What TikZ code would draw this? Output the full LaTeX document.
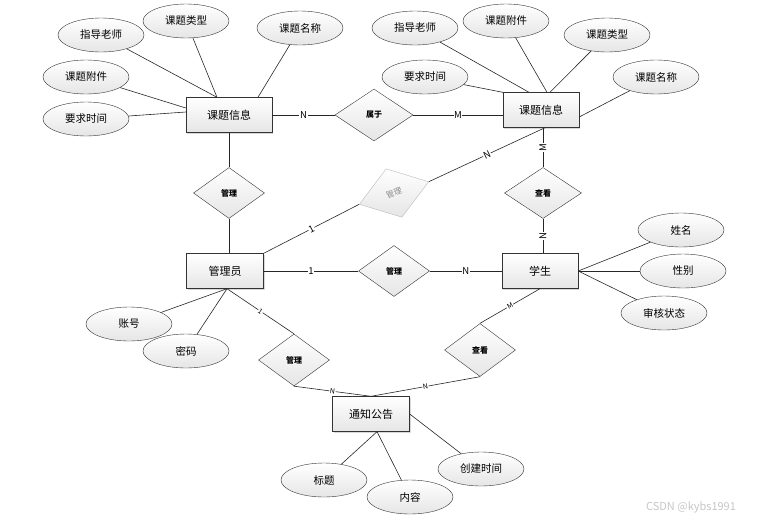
\documentclass[tikz,border=0pt]{standalone}
\usepackage{fontspec}
\setmainfont{Noto Sans CJK SC}
\usetikzlibrary{shapes.geometric, positioning, shadows}
\tikzset{
entity/.style={rectangle, draw=gray!40!black, top color=white, bottom color=gray!20, minimum width=76pt, minimum height=35pt, font=\fontsize{11}{12}\selectfont, drop shadow={shadow xshift=1pt, shadow yshift=-1pt, fill=gray!60}}, % the boxes
attr/.style={ellipse, draw=gray!40!black, top color=white, bottom color=gray!20, minimum width=86pt, minimum height=34pt, inner sep=0pt, font=\fontsize{10.5}{12}\selectfont}, % the ovals
rel/.style={diamond, draw=gray!40!black, top color=white, bottom color=gray!20, minimum width=71pt, minimum height=51pt, inner sep=0pt, font=\fontsize{8}{9}\selectfont\bfseries}, % the diamonds
lab/.style={fill=white, inner sep=0.6pt, font=\fontsize{9.5}{10}\selectfont}, % labels on the lines
small lab/.style={lab, font=\fontsize{7}{8}\selectfont},
every edge/.style={draw=gray!30!black, line width=0.6pt},
}

\begin{document}
\begin{tikzpicture}[x=1pt, y=-1pt, on grid]
    \useasboundingbox (0,0) rectangle (761,520);

    \node[entity, minimum width=86pt] (info1) at (229,115) {课题信息};
    \node[rel, minimum width=78pt, minimum height=52pt, right=145pt of info1] (belong) {属于};
    \node[entity, above right=5pt and 167pt of belong] (info2) {课题信息};
    \node[rel, below=78pt of info1] (manage1) {管理};
    \node[entity, minimum width=77pt, below left=78pt and 4pt of manage1] (admin) {管理员};
    \node[rel, right=169pt of admin] (manage2) {管理};
    \node[entity, right=146pt of manage2] (stu) {学生};
    \node[rel, minimum width=77pt, above right=78pt and 3pt of stu] (view1) {查看};
    \node[rel, rotate=18, minimum width=73pt, draw=gray!55, text=gray!90, font=\fontsize{8}{9}\selectfont, above=78pt of manage2] (grayrel) {管理};
    \node[rel, minimum height=52pt, below right=89pt and 69pt of admin] (manage3) {管理};
    \node[rel, minimum height=53pt, below left=79pt and 60pt of stu] (view2) {查看};
    \node[entity, minimum width=77pt, below right=54pt and 77pt of manage3] (notice) {通知公告};

    % attributes
    \node[attr, above left=80pt and 128pt of info1] (teacher1) {指导老师};
    \node[attr, above left=94pt and 43pt of info1] (type1) {课题类型};
    \node[attr, above right=87pt and 71pt of info1] (name1) {课题名称};
    \node[attr, above left=38pt and 143pt of info1] (file1) {课题附件};
    \node[attr, below left=4pt and 143pt of info1] (time1) {要求时间};

    \node[attr, above left=82pt and 126pt of info2] (teacher2) {指导老师};
    \node[attr, above left=89pt and 35pt of info2] (file2) {课题附件};
    \node[attr, above right=75pt and 66pt of info2] (type2) {课题类型};
    \node[attr, above left=33pt and 116pt of info2] (time2) {要求时间};
    \node[attr, above right=33pt and 115pt of info2] (name2) {课题名称};

    \node[attr, above right=41pt and 141pt of stu] (sname) {姓名};
    \node[attr, right=143pt of stu] (sex) {性别};
    \node[attr, below right=42pt and 124pt of stu] (status) {审核状态};

    \node[attr, below left=53pt and 96pt of admin] (account) {账号};
    \node[attr, below left=80pt and 39pt of admin] (pwd) {密码};

    \node[attr, below left=66pt and 47pt of notice] (title) {标题};
    \node[attr, below right=83pt and 39pt of notice] (content) {内容};
    \node[attr, below right=55pt and 110pt of notice] (ctime) {创建时间};

    \node[text=gray!45, font=\fontsize{11}{12}\selectfont] (mark) at (691,507) {CSDN @kybs1991};

    \draw
    (info1) edge node[lab]{N} (belong)
    (belong.east) edge node[lab]{M} (belong.east -| info2.west)
    (info1) edge (manage1)
    (manage1.south) edge (manage1.south |- admin.north)
    (admin.north east) edge node[lab, sloped]{1} (grayrel.west)
    (grayrel.east) edge node[lab, sloped]{N} ([xshift=4pt]info2.south)
    (view1.north |- info2.south) edge node[lab, rotate=90]{M} (view1.north)
    (view1.south) edge node[lab, rotate=90]{N} (view1.south |- stu.north)
    (admin) edge node[lab]{1} (manage2)
    (manage2) edge node[lab]{N} (stu)
    ([xshift=2pt]admin.south) edge node[small lab, sloped]{1} (manage3.north)
    (manage3.south) edge node[small lab, sloped]{N} (notice.north)
    (notice.north) edge node[small lab, sloped]{N} (view2.south)
    (view2.north) edge node[small lab, sloped]{M} (stu.south);

    \draw
    (teacher1) edge ([xshift=-12pt]info1.north)
    (type1) edge ([xshift=-12pt]info1.north)
    (name1) edge ([xshift=29pt]info1.north)
    (file1) edge ([yshift=7pt]info1.west)
    (time1) edge ([yshift=3pt]info1.west)
    (teacher2) edge ([xshift=-12pt]info2.north)
    (file2) edge ([xshift=6pt]info2.north)
    (type2) edge ([xshift=9pt]info2.north)
    (time2) edge (info2.north west)
    (name2) edge ([yshift=-7pt]info2.east)
    (stu.east) edge (sname)
    (stu.east) edge (sex)
    (stu.east) edge (status)
    ([xshift=2pt]admin.south) edge (account)
    ([xshift=2pt]admin.south) edge (pwd)
    ([xshift=6pt]notice.south) edge (title)
    ([xshift=6pt]notice.south) edge (content)
    (notice.east) edge (ctime);
\end{tikzpicture}
\end{document}
